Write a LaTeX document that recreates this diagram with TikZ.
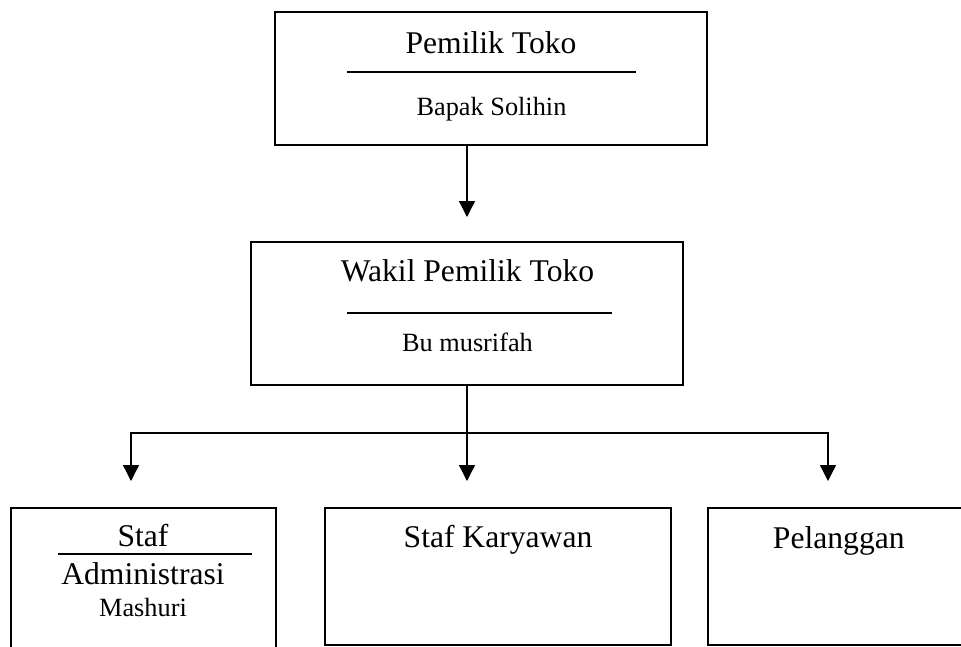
\documentclass[tikz,border=0pt]{standalone}
\usepackage{fontspec}
\setmainfont{Liberation Serif}
\usetikzlibrary{arrows.meta}
\tikzset{
  box/.style={draw, line width=1.5pt, rectangle, inner sep=0pt},
  big/.style={anchor=base, inner sep=0pt, font=\fontsize{31.6}{38}\selectfont},
  small/.style={anchor=base, inner sep=0pt, font=\fontsize{26.3}{32}\selectfont},
  sep/.style={line width=1.5pt},
  conn/.style={line width=1.3pt},
  arr/.style={conn, -{Triangle[length=16pt,width=16pt]}}
}
\begin{document}
\begin{tikzpicture}[x=1pt,y=-1pt]
\useasboundingbox (0,0) rectangle (961,646);
\clip (0,0) rectangle (961,646);
% boxes
\node[box, minimum width=432pt, minimum height=133pt] (own) at (491,78.5) {};
\node[box, minimum width=432pt, minimum height=143pt] (wak) at (467,313.5) {};
\node[box, minimum width=265pt, minimum height=192pt] (adm) at (143.5,604) {};
\node[box, minimum width=346pt, minimum height=137pt] (kar) at (498,576.5) {};
\node[box, minimum width=262pt, minimum height=137pt] (pel) at (839,576.5) {};
% texts
\node[big] (t1) at (491,53) {Pemilik Toko};
\draw[sep] (347,72) -- (636,72);
\node[small] (t2) at (491.5,115) {Bapak Solihin};
\node[big] (t3) at (467.5,281.7) {Wakil Pemilik Toko};
\draw[sep] (347,313) -- (612,313);
\node[small] (t4) at (467.5,351.7) {Bu musrifah};
\node[big] (t5) at (143,546.7) {Staf};
\draw[sep] (58,554) -- (252,554);
\node[big] (t6) at (143,584.3) {Administrasi};
\node[small] (t7) at (143,616.7) {Mashuri};
\node[big] (t8) at (498,547.7) {Staf Karyawan};
\node[big] (t9) at (838.8,548.3) {Pelanggan};
% connector points
\coordinate (ownout) at (467,145);
\coordinate (waktip) at (467,217);
\coordinate (busL) at (131,433);
\coordinate (busM) at (467,433);
\coordinate (busR) at (828,433);
\coordinate (tipL) at (131,481);
\coordinate (tipM) at (467,481);
\coordinate (tipR) at (828,481);
% connectors
\draw[arr] (ownout) -- (waktip);
\draw[conn] (wak.south) -- (busM);
\draw[arr] (busM) -- (busL) -- (tipL);
\draw[arr] (busM) -- (busR) -- (tipR);
\draw[arr] (busM) -- (tipM);
\end{tikzpicture}
\end{document}
